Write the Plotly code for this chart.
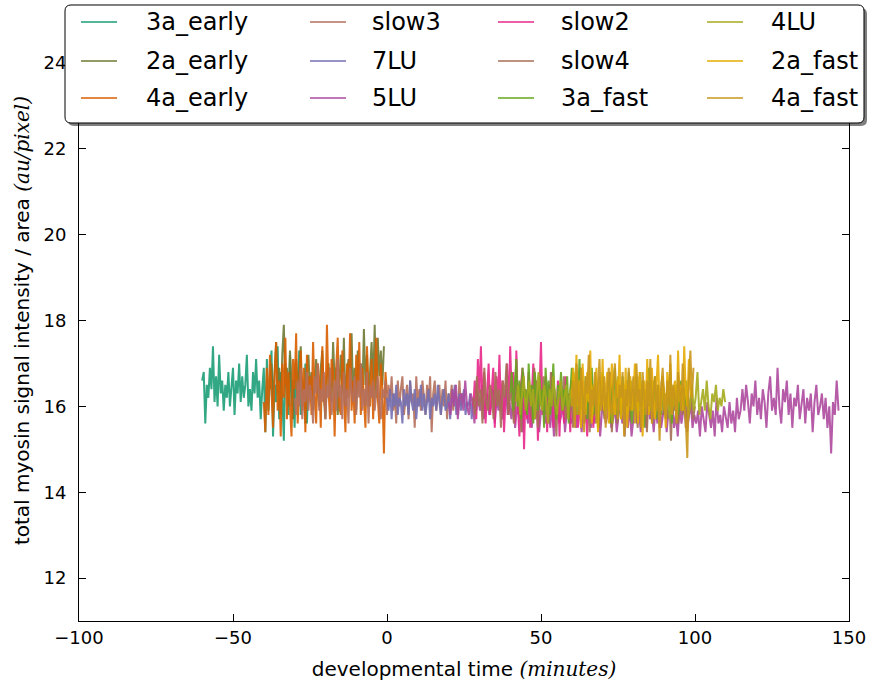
import plotly.graph_objects as go

# ---------------- data ----------------
names = ["3a_early", "2a_early", "4a_early", "slow3", "7LU", "5LU",
         "slow2", "slow4", "3a_fast", "4LU", "2a_fast", "4a_fast"]
colors = ["#1b9e77", "#6e7a33", "#d95f02", "#b5705c", "#7570b3", "#ad4a9f",
          "#e7298a", "#a66f55", "#66a61e", "#a6aa1d", "#e6ab02", "#c9961b"]
start_time = [-60, -38, -40, -30, 0, 20, 28, 28, 40, 42, 60, 60]
time_step = [0.5, 0.5, 0.5, 0.5, 0.5, 0.6, 0.5, 0.6, 0.5, 0.6, 0.5, 0.5]

v_3a_early = [
    16.6, 16.8, 15.6, 16.5, 16.2, 16.9, 16.4, 17.4, 16.1, 16.7,
    16.0, 17.2, 16.3, 16.6, 15.9, 16.5, 16.2, 16.8, 16.0, 16.4,
    16.9, 15.8, 16.6, 16.3, 17.0, 16.1, 16.7, 16.2, 16.5, 17.2,
    16.0, 16.4, 15.9, 16.8, 16.3, 17.1, 16.2, 16.6, 15.7, 16.4,
    16.9, 15.4, 17.1, 15.9, 16.6, 17.3, 15.3, 16.5, 16.1, 17.4,
    15.7, 16.8, 16.3, 15.2, 17.0, 16.4, 15.8, 17.2, 16.0, 16.6,
    15.5, 16.9, 16.2, 17.3, 15.8, 16.5, 16.1, 17.0, 15.6, 16.7, 16.3]
v_2a_early = [
    16.4, 17.0, 16.1, 16.8, 17.5, 16.3, 16.9, 15.8, 17.2, 17.9,
    16.5, 16.9, 16.0, 17.3, 16.6, 15.7, 16.8, 17.1, 16.2, 16.7,
    17.4, 16.0, 16.6, 15.6, 16.9, 17.2, 16.3, 16.8, 15.9, 16.5,
    17.1, 16.4, 16.0, 16.9, 17.3, 16.2, 15.7, 16.7, 17.0, 16.4,
    16.1, 17.5, 16.6, 16.9, 15.8, 16.5, 17.2, 16.3, 17.6, 16.0,
    16.8, 17.1, 16.4, 17.7, 16.2, 16.9, 15.9, 17.3, 16.6, 17.0,
    16.3, 17.8, 16.5, 17.2, 16.0, 16.8, 17.5, 16.4, 17.9, 16.2,
    17.6, 16.7, 17.3, 16.5, 17.4]
v_4a_early = [
    16.1, 15.4, 16.9, 15.8, 17.2, 16.3, 15.5, 16.7, 17.5, 15.9,
    16.6, 15.3, 17.0, 16.2, 17.6, 15.7, 16.8, 16.0, 15.3, 17.1,
    16.4, 17.7, 15.6, 16.5, 17.3, 15.9, 16.9, 15.4, 17.2, 16.1,
    16.7, 15.8, 17.5, 16.3, 15.6, 17.0, 16.6, 15.5, 17.4, 16.2,
    15.9, 17.9, 16.4, 15.7, 17.1, 16.8, 15.3, 16.9, 17.6, 16.0,
    15.8, 17.3, 16.5, 15.4, 17.0, 16.2, 17.7, 15.9, 16.6, 15.6,
    17.2, 16.3, 17.5, 15.8, 16.9, 16.1, 15.5, 17.4, 16.4, 16.0,
    17.1, 15.7, 16.7, 17.6, 16.2, 15.6, 17.0, 16.4, 14.9, 16.8,
    16.3]
v_slow3 = [
    16.2, 15.8, 16.6, 16.0, 16.9, 15.7, 16.4, 16.1, 16.8, 15.9,
    16.5, 16.2, 15.6, 16.7, 16.3, 17.0, 15.9, 16.4, 16.1, 16.8,
    15.7, 16.5, 16.2, 16.9, 15.8, 16.3, 16.6, 15.9, 17.1, 16.2,
    16.5, 15.7, 16.8, 16.0, 16.4, 15.6, 16.9, 16.3, 16.1, 16.7,
    15.8, 16.6, 16.2, 17.0, 15.9, 16.4, 16.0, 16.8, 15.6, 16.5,
    16.2, 16.6, 15.9, 16.3, 16.7, 16.0, 15.7, 16.4, 16.2, 16.6,
    15.8, 16.5, 16.1, 16.7, 15.9, 16.3, 15.6, 16.6, 16.0, 16.4,
    16.7, 15.8, 16.2, 16.5, 15.7, 16.6, 16.1, 16.3, 15.5, 16.7,
    16.0, 16.4, 15.9, 16.6, 16.2, 15.8, 16.5, 16.1, 16.7, 15.4,
    16.3, 16.6, 15.9, 16.2, 16.5, 15.8, 16.4, 16.0, 16.6, 15.7,
    16.3, 16.1, 16.5, 15.9, 16.4, 16.2, 15.8, 16.6, 16.0, 16.3,
    16.1]
v_7LU = [
    16.2, 15.9, 16.4, 15.7, 16.3, 16.0, 16.5, 15.8, 16.2, 16.1,
    15.6, 16.4, 16.0, 16.3, 15.8, 16.6, 16.1, 15.9, 16.4, 15.7,
    16.2, 16.0, 16.5, 15.9, 16.3, 15.8, 16.1, 16.4, 15.7, 16.2,
    16.0, 16.3, 15.9, 16.5, 16.1, 15.8, 16.2, 16.4, 15.9, 16.0,
    16.3, 15.7, 16.2, 16.1, 16.5, 15.8, 16.0, 16.3, 15.9, 16.2,
    16.4, 15.8, 16.1, 16.0, 16.3, 15.7, 16.2, 16.0, 15.9, 16.3,
    16.1]
v_5LU = [
    16.1, 15.8, 16.4, 16.0, 16.5, 15.7, 16.2, 16.3, 15.9, 16.6,
    16.0, 15.8, 16.3, 16.1, 15.6, 16.4, 16.2, 15.9, 16.5, 15.7,
    16.1, 16.3, 15.8, 16.0, 16.4, 15.6, 16.2, 15.9, 16.3, 15.7,
    16.0, 16.4, 15.8, 16.1,
    15.7, 16.2, 15.5, 16.0, 15.8, 16.4, 15.4, 16.1, 15.9, 15.6,
    16.3, 15.5, 16.0, 15.7, 16.2, 15.4, 15.9, 16.1, 15.6, 15.8,
    16.4, 15.5, 16.0, 15.3, 15.9, 16.2, 15.6, 15.8, 16.1, 15.4,
    15.9, 16.3, 15.6, 15.7, 16.0, 15.5, 16.2, 15.8, 15.4, 16.1,
    15.7, 15.9, 16.3, 15.5, 16.0, 15.6, 15.8, 16.2, 15.3, 15.9,
    16.1, 15.6, 15.8, 16.4, 15.5, 15.7, 16.0, 15.4, 15.9, 16.2,
    15.6, 15.8, 16.1, 15.5, 16.0, 15.3, 15.7, 16.3, 15.6, 15.9,
    15.4, 16.1, 15.8, 15.5, 16.2, 15.7, 15.9, 15.4, 16.0, 15.6,
    16.3, 15.5, 15.8, 16.1, 15.4, 15.9, 15.7, 16.2, 15.5, 15.8,
    15.3, 16.0, 15.6, 15.9, 16.2, 15.4, 15.7, 16.1, 15.5, 15.8,
    15.6, 15.9, 15.3, 16.0, 15.7, 15.4, 16.1, 15.8, 15.5, 15.9,
    15.3, 16.2, 15.6, 15.8, 15.4, 16.0, 15.7, 15.5, 16.1, 15.6,
    15.9, 15.4, 16.2, 15.7, 15.9,
    16.4, 15.9, 16.5, 16.1, 15.6, 16.3, 16.0, 16.6, 15.8, 16.2,
    15.7, 16.4, 16.1, 15.5, 16.3, 16.7, 15.9, 16.2, 15.8, 16.9,
    16.0, 15.6, 16.4, 16.1, 16.6, 15.8, 16.3, 15.5, 16.2, 16.0,
    16.5, 15.7, 16.1, 16.4, 15.6, 16.2, 15.9, 16.3, 15.4, 16.1,
    16.5, 15.8, 16.0, 16.3, 15.7, 16.2, 15.5, 16.0, 14.9, 16.1,
    15.8, 16.6, 15.9]
v_slow2 = [
    16.0, 16.6, 15.7, 17.1, 16.3, 17.4, 15.9, 16.8, 15.6, 16.5,
    17.0, 15.8, 16.4, 16.9, 15.5, 16.7, 16.1, 17.2, 15.9, 16.6,
    15.4, 16.3, 17.0, 15.8, 17.4, 16.2, 16.8, 15.6, 17.3, 16.0,
    15.3, 16.5, 16.9, 15.0, 16.4, 15.7, 16.8, 15.5, 16.2, 17.0,
    15.9, 16.6, 15.2, 16.3, 17.5, 15.8, 16.1, 16.7, 15.4, 16.5,
    15.9, 16.8, 15.5, 16.2, 15.7, 16.6, 15.3, 16.4, 16.0, 15.6,
    16.7, 15.8, 16.3, 15.4, 16.5, 16.1, 15.7, 16.4, 15.5, 16.2,
    15.9, 16.6, 15.6, 16.0, 15.3, 16.3, 15.8, 16.1, 15.5, 16.4,
    16.0]
v_slow4 = [
    16.2, 15.8, 16.7, 16.0, 16.4, 15.6, 16.9, 16.1, 15.9, 16.5,
    16.3, 15.7, 16.8, 16.0, 16.4, 15.5, 16.6, 16.2, 17.0, 15.8,
    16.3, 16.1, 15.6, 16.7, 16.0, 16.5, 15.4, 16.8, 16.2, 15.9,
    16.6, 16.0, 15.7, 16.9, 16.3, 15.5, 16.4, 16.1, 16.7, 15.8,
    16.2, 15.6, 16.8, 16.0, 16.4, 15.3, 16.5, 16.2, 15.9, 16.7,
    15.7, 16.3, 16.0, 16.6, 15.5, 16.4, 16.1, 15.8, 16.9, 16.0,
    15.6, 16.5, 16.2, 15.4, 16.7, 16.0, 15.8, 16.4, 15.5, 16.6,
    16.1, 15.7, 16.3, 15.9, 16.8, 15.4, 16.2, 16.0, 15.6, 16.5,
    15.8, 16.3, 15.3, 16.6, 16.0, 15.7, 16.4, 15.9, 16.2, 15.5,
    16.7, 16.1, 15.8, 16.3, 15.4, 16.5, 16.0, 15.6, 16.4, 15.9,
    16.2, 15.5, 16.6, 15.8, 16.1, 15.7, 16.3, 15.2, 16.4, 15.9,
    16.0, 15.6, 16.5, 15.8, 16.2, 15.5, 16.1, 15.9, 16.3, 15.7,
    16.0]
v_3a_fast = [
    16.3, 16.8, 15.9, 16.5, 17.1, 16.0, 16.6, 15.7, 16.9, 16.2,
    16.4, 15.8, 17.0, 16.1, 16.5, 15.6, 16.8, 16.3, 15.9, 16.7,
    16.0, 16.4, 15.5, 16.9, 16.2, 16.6, 15.8, 16.3, 17.0, 16.1,
    15.7, 16.5, 16.2, 16.8, 15.9, 16.4, 16.0, 16.7, 15.6, 16.3,
    16.9, 16.1, 15.8, 16.6, 16.2, 17.1, 15.9, 16.4, 16.0, 16.7,
    15.7, 16.5, 16.2, 16.9, 15.8, 16.3, 16.6, 15.5, 16.4, 16.1,
    16.8, 15.9, 16.3, 16.0, 16.6, 15.6, 16.5, 16.2, 16.9, 15.8,
    16.4, 16.1, 15.7, 16.7, 16.0, 16.5, 15.9, 16.8, 16.2, 15.6,
    16.4, 16.1, 16.7, 15.8, 16.3, 16.0, 16.6, 15.5, 16.4, 16.2,
    16.9, 15.9, 16.3, 16.0, 16.7, 15.7, 16.5, 16.1, 15.8, 16.6,
    16.2, 15.9, 16.4, 16.0, 16.8, 15.6, 16.3, 16.1, 16.5, 15.8,
    16.2, 16.6, 15.9, 16.4, 16.0, 16.3, 16.1]
v_4LU = [
    16.1, 16.5, 15.8, 16.3, 16.7, 15.9, 16.2, 16.6, 16.0, 16.4,
    15.7, 16.3, 16.8, 16.1, 15.9, 16.5, 16.2, 15.6, 16.4, 16.0,
    16.7, 16.1, 15.8, 16.3, 16.6, 15.9, 16.2, 16.5, 15.7, 16.4,
    16.0, 16.8, 16.2, 15.8, 16.3, 16.6, 16.0, 15.9, 16.5, 16.1,
    16.4, 15.7, 16.2, 16.7, 15.9, 16.3, 16.0, 16.6, 15.8, 16.2,
    16.5, 16.0, 15.6, 16.4, 16.1, 16.7, 15.9, 16.3, 16.0, 16.5,
    15.8, 16.2, 16.6, 16.0, 15.9, 16.4, 16.1, 16.8, 15.7, 16.3,
    16.0, 16.5, 15.9, 16.2, 16.6, 15.8, 16.1, 16.4, 16.0, 16.7,
    15.9, 16.3, 16.1, 15.7, 16.5, 16.0, 16.2, 15.8, 16.4, 16.1,
    15.9, 16.3, 16.6, 15.7, 16.0, 16.5, 15.9, 16.2, 16.8, 15.8,
    16.1, 16.4, 15.9, 16.6, 16.0, 15.7, 16.3, 16.1, 16.5, 15.9,
    16.2, 16.0, 16.4, 16.1]
v_2a_fast = [
    16.2, 16.9, 15.7, 17.2, 16.0, 16.6, 15.5, 17.0, 16.3, 15.8,
    16.8, 16.1, 17.3, 15.6, 16.5, 16.2, 16.9, 15.4, 16.7, 16.0,
    17.1, 15.9, 16.4, 16.8, 15.6, 16.3, 17.0, 16.1, 15.8, 16.6,
    16.2, 17.2, 15.7, 16.5, 16.0, 16.9, 15.5, 16.4, 16.7, 15.9,
    16.3, 17.0, 16.1, 15.6, 16.8, 16.2, 15.3, 16.6, 16.0, 17.1,
    15.8, 16.4, 16.9, 16.1, 15.7, 16.5, 17.2, 16.0, 15.9, 16.7,
    16.3, 15.5, 16.8, 16.2, 17.0, 15.8, 16.4, 16.6, 15.7, 17.3,
    16.1, 16.5, 15.9, 17.4, 16.3, 16.0, 17.1, 16.4, 16.2]
v_4a_fast = [
    16.0, 16.6, 15.5, 17.0, 16.2, 15.8, 16.9, 16.1, 15.4, 16.7,
    16.3, 17.2, 15.7, 16.4, 16.0, 16.8, 15.6, 16.5, 17.1, 15.9,
    16.2, 16.7, 15.5, 16.4, 16.9, 16.0, 15.8, 16.6, 17.0, 16.1,
    15.7, 16.5, 16.2, 16.8, 15.3, 16.4, 16.0, 16.9, 15.9, 16.3,
    16.7, 15.6, 17.0, 16.1, 16.4, 15.5, 16.8, 16.2, 15.8, 16.6,
    16.0, 17.1, 15.6, 16.3, 16.7, 15.9, 16.5, 15.2, 16.4, 16.9,
    16.1, 15.7, 16.6, 16.0, 17.2, 15.8, 16.5, 16.2, 15.6, 16.8,
    16.3, 15.9, 17.0, 16.1, 15.7, 14.8, 16.6, 17.3, 16.2, 16.9]

values = [v_3a_early, v_2a_early, v_4a_early, v_slow3, v_7LU, v_5LU,
          v_slow2, v_slow4, v_3a_fast, v_4LU, v_2a_fast, v_4a_fast]

x_ticks = [-100, -50, 0, 50, 100, 150]
y_ticks = [12, 14, 16, 18, 20, 22, 24]

# ---------------- geometry (page pixels; body margin removed) ----------------
FIG_W, FIG_H = 874, 684
PLOT_L, PLOT_R, PLOT_T, PLOT_B = 79, 849, 20, 621   # plot area in page pixels

def px(x):
    return (x - PLOT_L) / (PLOT_R - PLOT_L)

def py(y):
    return (PLOT_B - y) / (PLOT_B - PLOT_T)

fig = go.Figure()
for name, col, t0, dt, vals in zip(names, colors, start_time, time_step, values):
    t = [t0 + dt * i for i in range(len(vals))]
    fig.add_trace(go.Scatter(x=t, y=vals, mode="lines", name=name,
                             line=dict(color=col, width=2), opacity=0.9,
                             showlegend=False, hoverinfo="skip"))

serif = "font-family:'DejaVu Serif',serif;font-style:italic"
fig.update_layout(
    width=FIG_W, height=FIG_H,
    margin=dict(l=PLOT_L, r=FIG_W - PLOT_R, t=PLOT_T, b=FIG_H - PLOT_B),
    paper_bgcolor="white", plot_bgcolor="white",
    font=dict(family="DejaVu Sans", size=18, color="black"),
    showlegend=False,
    xaxis=dict(range=[-100, 150], tickvals=x_ticks, ticks="inside", ticklen=7,
               tickcolor="black", showline=True, linecolor="black", linewidth=1,
               mirror="ticks", showgrid=False, zeroline=False, automargin=False,
               tickfont=dict(size=18), ticklabelstandoff=0,
               title=dict(text="developmental time <span style=\"" + serif + "\">(minutes)</span>",
                          font=dict(size=20), standoff=15)),
    yaxis=dict(range=[11, 25], tickvals=y_ticks, ticks="inside", ticklen=7,
               tickcolor="black", showline=True, linecolor="black", linewidth=1,
               mirror="ticks", showgrid=False, zeroline=False, automargin=False,
               tickfont=dict(size=18), ticklabelstandoff=8,
               title=dict(text="total myosin signal intensity / area <span style=\"" + serif + "\">(au/pixel)</span>",
                          font=dict(size=20), standoff=8)),
)

# ---------------- legend (drawn in paper space) ----------------
def rounded_rect(x0, y0, x1, y1, r):
    pts = [
        ("M", (x0 + r, y0)), ("L", (x1 - r, y0)), ("Q", (x1, y0), (x1, y0 + r)),
        ("L", (x1, y1 - r)), ("Q", (x1, y1), (x1 - r, y1)),
        ("L", (x0 + r, y1)), ("Q", (x0, y1), (x0, y1 - r)),
        ("L", (x0, y0 + r)), ("Q", (x0, y0), (x0 + r, y0)),
    ]
    s = ""
    for p in pts:
        coords = " ".join(f"{px(a):.5f},{py(b):.5f}" for a, b in p[1:])
        s += f"{p[0]}{coords} "
    return s + "Z"

box = (65, 5, 864, 123)
fig.add_shape(type="path", xref="paper", yref="paper",
              path=rounded_rect(box[0] + 3, box[1] + 3, box[2] + 3, box[3] + 3, 6),
              fillcolor="rgba(0,0,0,0.5)", line=dict(width=0), layer="above")
fig.add_shape(type="path", xref="paper", yref="paper",
              path=rounded_rect(*box, 6),
              fillcolor="white", line=dict(color="black", width=1), layer="above")

col_line_x = [81, 310, 498, 707]
col_text_x = [144, 370, 559, 769]
row_y = [22, 61, 98]
for i, (name, col) in enumerate(zip(names, colors)):
    c, r = i // 3, i % 3
    fig.add_shape(type="line", xref="paper", yref="paper",
                  x0=px(col_line_x[c]), x1=px(col_line_x[c] + 36),
                  y0=py(row_y[r]), y1=py(row_y[r]),
                  line=dict(color=col, width=2), opacity=0.75, layer="above")
    fig.add_annotation(xref="paper", yref="paper", x=px(col_text_x[c]), y=py(row_y[r]),
                       text=name, showarrow=False, xanchor="left", yanchor="middle",
                       font=dict(size=24, family="DejaVu Sans", color="black"))

fig.write_html("out.html", config={"displayModeBar": False},
               post_script="document.body.style.margin='0px';document.body.style.overflow='hidden';")
